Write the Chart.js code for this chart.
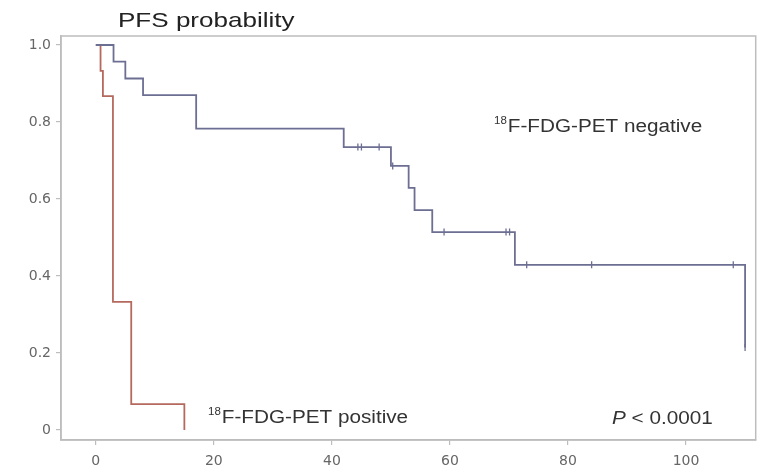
<!DOCTYPE html>
<html>
<head>
<meta charset="utf-8">
<script src="https://cdn.jsdelivr.net/npm/chart.js@4/dist/chart.umd.min.js"></script>
<style>
  body { margin: 0; background: #fff; }
  #km { display: block; }
</style>
</head>
<body>
<canvas id="km" width="761" height="469"></canvas>
<script>
// Kaplan-Meier data (months, survival probability)
const negTime = [0, 3, 5, 8, 17, 42, 50, 53, 54, 57, 71, 110];
const negSurv = [1, 0.957, 0.913, 0.870, 0.783, 0.735, 0.686, 0.629, 0.571, 0.514, 0.429, 0.214];
const negCensTime = [44.4, 45, 48, 50.3, 59, 69.5, 70.1, 73, 84, 108, 110];
const negCensSurv = [0.735, 0.735, 0.735, 0.686, 0.514, 0.514, 0.514, 0.429, 0.429, 0.429, 0.214];

const posTime = [0, 0.8, 1.2, 2.9, 6, 15];
const posSurv = [1, 0.933, 0.867, 0.333, 0.067, 0];

const xTicks = [0, 20, 40, 60, 80, 100];
const yTicks = [0, 0.2, 0.4, 0.6, 0.8, 1.0];

const toPoints = (xs, ys) => xs.map((x, i) => ({ x: x, y: ys[i] }));

const blue = '#6c6e92';
const red = '#b5695e';
const frame = '#bdbdbd';

// draws text squeezed wider like the original figure
function wideText(ctx, str, x, y, font, color, stretch) {
    ctx.save();
    ctx.font = font;
    ctx.fillStyle = color;
    ctx.textBaseline = 'alphabetic';
    ctx.translate(x, y);
    ctx.scale(stretch, 1);
    ctx.fillText(str, 0, 0);
    const w = ctx.measureText(str).width * stretch;
    ctx.restore();
    return w;
}

const annotations = {
    id: 'annotations',
    afterDraw(chart) {
        const ctx = chart.ctx;
        const a = chart.chartArea;
        // box around the plot
        ctx.save();
        ctx.strokeStyle = frame;
        ctx.lineWidth = 1.5;
        ctx.strokeRect(a.left, a.top, a.right - a.left, a.bottom - a.top);
        ctx.restore();

        const fam = '"Liberation Sans", Arial, sans-serif';
        const main = '18px ' + fam;
        const sup = '10px ' + fam;
        wideText(ctx, 'PFS probability', 118, 27, '21px ' + fam, '#222', 1.24);

        let w = wideText(ctx, '18', 494, 124, sup, '#333', 1.15);
        wideText(ctx, 'F-FDG-PET negative', 494 + w + 1, 132, main, '#333', 1.15);

        w = wideText(ctx, '18', 208, 415, sup, '#333', 1.15);
        wideText(ctx, 'F-FDG-PET positive', 208 + w + 1, 423, main, '#333', 1.15);

        w = wideText(ctx, 'P', 612, 424, 'italic 18px ' + fam, '#333', 1.15);
        wideText(ctx, ' < 0.0001', 612 + w, 424, '18px ' + fam, '#333', 1.15);
    }
};

const ctx = document.getElementById('km').getContext('2d');
new Chart(ctx, {
    type: 'line',
    data: {
        datasets: [
            {
                label: '18F-FDG-PET negative',
                data: toPoints(negTime, negSurv),
                borderColor: blue,
                borderWidth: 1.8,
                stepped: true,
                pointRadius: 0,
                fill: false
            },
            {
                label: '18F-FDG-PET positive',
                data: toPoints(posTime, posSurv),
                borderColor: red,
                borderWidth: 1.8,
                stepped: true,
                pointRadius: 0,
                fill: false
            },
            {
                label: 'censored',
                data: toPoints(negCensTime, negCensSurv),
                showLine: false,
                pointStyle: 'line',
                rotation: 90,
                pointRadius: 3.5,
                pointBorderWidth: 1.3,
                pointBorderColor: blue,
                borderColor: blue
            }
        ]
    },
    options: {
        responsive: false,
        animation: false,
        devicePixelRatio: 1,
        layout: { padding: { left: 0, top: 36, right: 3, bottom: 0 } },
        plugins: {
            legend: { display: false },
            tooltip: { enabled: false },
            title: { display: false }
        },
        scales: {
            x: {
                type: 'linear',
                min: -5.9,
                max: 111.8,
                afterBuildTicks: (scale) => { scale.ticks = xTicks.map(v => ({ value: v })); },
                afterFit: (scale) => { scale.height = 29; },
                grid: { drawOnChartArea: false, drawTicks: true, tickLength: 5, color: frame, lineWidth: 1.2 },
                border: { color: frame, width: 1.5 },
                ticks: {
                    color: '#666',
                    padding: 8,
                    maxRotation: 0,
                    font: { family: 'DejaVu Sans', size: 14 }
                }
            },
            y: {
                type: 'linear',
                min: -0.026,
                max: 1.0234,
                afterBuildTicks: (scale) => { scale.ticks = yTicks.map(v => ({ value: v })); },
                afterFit: (scale) => { scale.width = 61; },
                grid: { drawOnChartArea: false, drawTicks: true, tickLength: 5, color: frame, lineWidth: 1.2 },
                border: { color: frame, width: 1.5 },
                ticks: {
                    color: '#666',
                    padding: 5,
                    font: { family: 'DejaVu Sans', size: 14 },
                    callback: (v) => v === 0 ? '0' : v.toFixed(1)
                }
            }
        }
    },
    plugins: [annotations]
});
</script>
</body>
</html>
